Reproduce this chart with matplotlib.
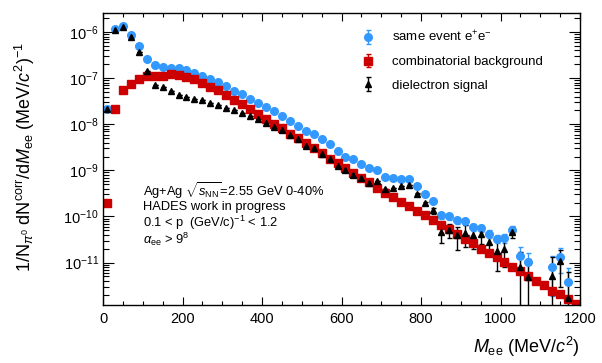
import numpy as np
import matplotlib
matplotlib.use('Agg')
import matplotlib.pyplot as plt
from matplotlib.ticker import MultipleLocator, LogLocator

plt.rcParams['font.family'] = ['Liberation Sans', 'DejaVu Sans']
plt.rcParams['mathtext.fontset'] = 'custom'
plt.rcParams['mathtext.rm'] = 'Liberation Sans'
plt.rcParams['mathtext.it'] = 'Liberation Sans:italic'
plt.rcParams['mathtext.bf'] = 'Liberation Sans:bold'

# bin centres, 20 MeV/c2 wide
mass = np.arange(10, 1200, 20)

same_event = [2.2e-8, 1.17e-6, 1.37e-6, 8.7e-7, 5.0e-7, 2.6e-7, 1.9e-7, 1.77e-7, 1.7e-7, 1.63e-7,
              1.49e-7, 1.33e-7, 1.14e-7, 9.4e-8, 8.1e-8, 6.7e-8, 5.4e-8, 4.5e-8, 3.6e-8, 2.9e-8,
              2.4e-8, 1.95e-8, 1.5e-8, 1.2e-8, 9.3e-9, 7.1e-9, 6.2e-9, 4.7e-9, 3.7e-9, 2.7e-9,
              2.0e-9, 1.73e-9, 1.4e-9, 1.1e-9, 1.0e-9, 7.2e-10, 6.8e-10, 6.6e-10, 6.5e-10, 4.5e-10,
              3.0e-10, 2.2e-10, 1.05e-10, 1.0e-10, 8.2e-11, 7.8e-11, 5.9e-11, 5.5e-11, 4.2e-11, 3.3e-11,
              3.4e-11, 5.1e-11, 1.4e-11, 1.02e-11, np.nan, np.nan, 7.9e-12, 1.35e-11, 3.7e-12, np.nan]
same_event_err = [0] * 42 + [1.5e-11, 1.5e-11, 1.3e-11, 1.2e-11, 1e-11, 1e-11, 8e-12, 6e-12,
                             8e-12, 1e-11, 8e-12, 6e-12, 0, 0, 6e-12, 7.5e-12, 4e-12, 0]

comb_bg = [2.0e-10, 2.15e-8, 5.5e-8, 7.6e-8, 9.5e-8, 1.1e-7, 1.14e-7, 1.14e-7, 1.22e-7, 1.18e-7,
           1.05e-7, 9.5e-8, 7.9e-8, 6.6e-8, 5.5e-8, 4.3e-8, 3.4e-8, 2.8e-8, 2.2e-8, 1.66e-8,
           1.33e-8, 1.04e-8, 8.2e-9, 6.3e-9, 5.0e-9, 4.0e-9, 3.0e-9, 2.4e-9, 1.8e-9, 1.44e-9,
           1.1e-9, 8.9e-10, 6.9e-10, 5.6e-10, 4.2e-10, 3.3e-10, 2.7e-10, 2.1e-10, 1.66e-10, 1.32e-10,
           1.05e-10, 8.2e-11, 6.5e-11, 5.3e-11, 4.2e-11, 3.3e-11, 2.6e-11, 2.0e-11, 1.65e-11, 1.3e-11,
           1.04e-11, 8.2e-12, 6.5e-12, 5.1e-12, 3.9e-12, 3.2e-12, 2.4e-12, 2.05e-12, 1.65e-12, 1.26e-12]
comb_bg_err = [0] * 60

signal = [2.2e-8, 1.12e-6, 1.3e-6, 7.9e-7, 3.7e-7, 1.47e-7, 7.3e-8, 6.3e-8, 5.3e-8, 4.4e-8,
          4.0e-8, 3.5e-8, 3.3e-8, 2.9e-8, 2.57e-8, 2.3e-8, 2.0e-8, 1.74e-8, 1.48e-8, 1.29e-8,
          1.05e-8, 8.9e-9, 7.4e-9, 5.9e-9, 4.7e-9, 3.3e-9, 3.0e-9, 2.3e-9, 1.8e-9, 1.26e-9,
          1.0e-9, 8.0e-10, 6.8e-10, 5.4e-10, 6.0e-10, 4.0e-10, 4.2e-10, 4.5e-10, 4.7e-10, 3.1e-10,
          1.95e-10, 1.35e-10, 4.6e-11, 5.2e-11, 3.9e-11, 4.4e-11, 4.0e-11, 4.2e-11, 2.8e-11, 1.8e-11,
          2.0e-11, 4.7e-11, 7.9e-12, 4.8e-12, np.nan, np.nan, 5.2e-12, 1.1e-11, 1.7e-12, np.nan]
signal_err = [0] * 39 + [1e-11, 1.5e-11, 2e-11, 2e-11, 1.8e-11, 2e-11, 2.2e-11, 2e-11, 1.7e-11,
                         1.1e-11, 1.15e-11, 1.2e-11, 1.3e-11, 9e-12, 7e-12, 0, 0, 8.3e-12, 8e-12,
                         4.5e-12, 0]

blue = '#3399ff'
red = '#cc0000'

fig = plt.figure(figsize=(6.02, 3.63), dpi=100)
ax = fig.add_axes([103 / 602, 1 - 305 / 363, 477 / 602, 292 / 363])

h1 = ax.errorbar(mass, same_event, yerr=same_event_err, fmt='o', color=blue, ms=5.5,
                 capsize=1.8, elinewidth=1.0, label=r'same event e$^{+}$e$^{-}$')
h2 = ax.errorbar(mass, comb_bg, yerr=comb_bg_err, fmt='s', color=red, ms=5.3,
                 capsize=1.8, elinewidth=1.0, label='combinatorial background')
h3 = ax.errorbar(mass, signal, yerr=signal_err, fmt='^', color='black', ms=4.8,
                 capsize=1.8, elinewidth=1.0, label='dielectron signal')

ax.set_yscale('log')
ax.set_xlim(0, 1200)
ax.set_ylim(1.2e-12, 2.6e-6)
ax.xaxis.set_major_locator(MultipleLocator(200))
ax.xaxis.set_minor_locator(MultipleLocator(50))
ax.yaxis.set_major_locator(LogLocator(base=10, numticks=20))
ax.yaxis.set_minor_locator(LogLocator(base=10, subs=np.arange(2, 10), numticks=20))
ax.tick_params(which='both', direction='in', top=True, right=True, labelsize=10.5, width=0.8)
ax.tick_params(axis='x', which='major', length=6, pad=5)
ax.tick_params(axis='x', which='minor', length=3)
ax.tick_params(axis='y', which='major', length=8, pad=3)
ax.tick_params(axis='y', which='minor', length=4)
for s in ax.spines.values():
    s.set_linewidth(1.0)

ax.legend(handles=[h1, h2, h3], loc='upper left', bbox_to_anchor=(352 / 602, 1 - 23 / 363),
          bbox_transform=fig.transFigure, frameon=False, fontsize=9.5,
          handlelength=1.4, handletextpad=1.1, labelspacing=0.85, borderpad=0)

fig.text(25 / 602, 1 - 157 / 363,
         r'1/N$_{\pi^{0}}$ dN$^{\rm corr}$/d$M_{\rm ee}$ (MeV/$c^{2}$)$^{-1}$',
         rotation=90, ha='center', va='center', fontsize=13)
fig.text(580 / 602, 1 - 347 / 363, r'$M_{\rm ee}$ (MeV/$c^{2}$)', ha='right', va='center',
         fontsize=13)

notes = [r'Ag+Ag $\sqrt{s_{\rm NN}}$=2.55 GeV 0-40%',
         'HADES work in progress',
         r'0.1 < p$_{\ }$ (GeV/c)$^{-1}$ < 1.2',
         r'$\alpha_{\rm ee}$ > 9$^{8}$']
for i, line in enumerate(notes):
    fig.text(143 / 602, 1 - (191 + 16 * i) / 363, line, ha='left', va='center', fontsize=9.3)

fig.savefig('out.png', dpi=100)
